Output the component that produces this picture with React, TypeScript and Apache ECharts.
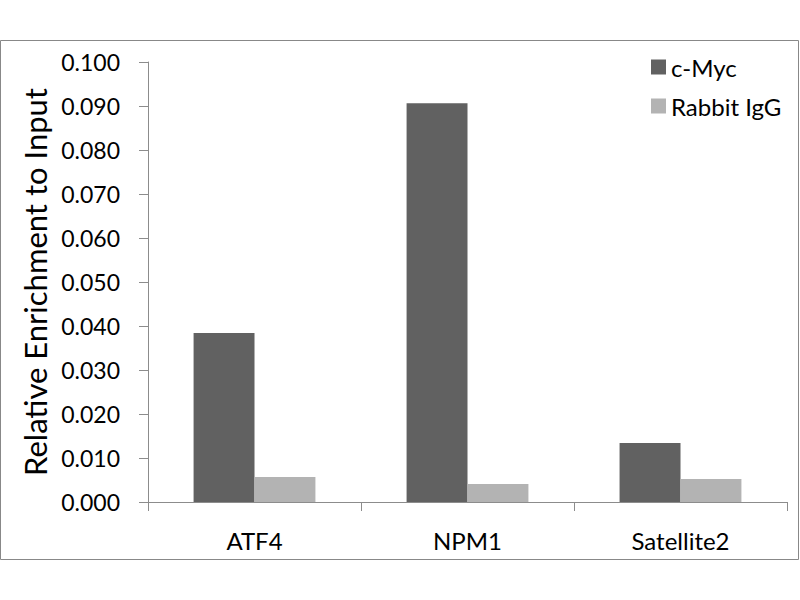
import React, { useEffect, useRef } from "react";
import * as echarts from "echarts";

const categories = ["ATF4", "NPM1", "Satellite2"];
const cMyc = [0.0384, 0.0906, 0.0134];
const rabbitIgG = [0.0057, 0.0041, 0.0052];
const seriesNames = ["c-Myc", "Rabbit IgG"];
const yAxisTitle = "Relative Enrichment to Input";

export default function App() {
  const ref = useRef<HTMLDivElement>(null);
  useEffect(() => {
    if (!ref.current) return;
    const chart = echarts.init(ref.current, undefined, { renderer: "svg" });
    const font = "Lato, 'Open Sans', sans-serif";
    chart.setOption({
      animation: false,
      backgroundColor: "#ffffff",
      textStyle: { fontFamily: font },
      grid: { left: 148, right: 13, top: 62, bottom: 98 },
      legend: {
        orient: "vertical",
        left: 646,
        top: 50,
        itemWidth: 15,
        itemHeight: 15,
        itemGap: 15,
        icon: "rect",
        textStyle: { fontSize: 24, color: "#000", fontFamily: font, padding: [0, 0, 0, 0] },
        data: seriesNames,
      },
      graphic: [
        {
          type: "rect",
          shape: { x: 0.5, y: 40.5, width: 798, height: 519 },
          style: { fill: "none", stroke: "#888888", lineWidth: 1 },
          silent: true,
        },
      ],
      xAxis: {
        type: "category",
        data: categories,
        axisLine: { lineStyle: { color: "#8c8c8c", width: 1 } },
        axisTick: { show: true, length: 9, alignWithLabel: false, lineStyle: { color: "#8c8c8c" } },
        axisLabel: { fontSize: 24, color: "#000", margin: 26, fontFamily: font },
        splitLine: { show: false },
      },
      yAxis: {
        type: "value",
        min: 0,
        max: 0.1,
        interval: 0.01,
        name: yAxisTitle,
        nameLocation: "middle",
        nameGap: 96,
        nameTextStyle: { fontSize: 31, color: "#000", fontFamily: font },
        axisLine: { show: true, lineStyle: { color: "#8c8c8c", width: 1 } },
        axisTick: { show: true, length: 9, lineStyle: { color: "#8c8c8c" } },
        axisLabel: {
          fontSize: 23,
          color: "#000",
          margin: 28,
          fontFamily: font,
          formatter: (v: number) => v.toFixed(3),
        },
        splitLine: { show: false },
      },
      series: [
        {
          name: seriesNames[0],
          type: "bar",
          data: cMyc,
          barWidth: "28.6%",
          barGap: "0%",
          itemStyle: { color: "#616161" },
        },
        {
          name: seriesNames[1],
          type: "bar",
          data: rabbitIgG,
          barWidth: "28.6%",
          barGap: "0%",
          itemStyle: { color: "#b3b3b3" },
        },
      ],
    });
    return () => chart.dispose();
  }, []);
  return (
    <div
      ref={ref}
      style={{ position: "fixed", left: 0, top: 0, width: 800, height: 600 }}
    />
  );
}
